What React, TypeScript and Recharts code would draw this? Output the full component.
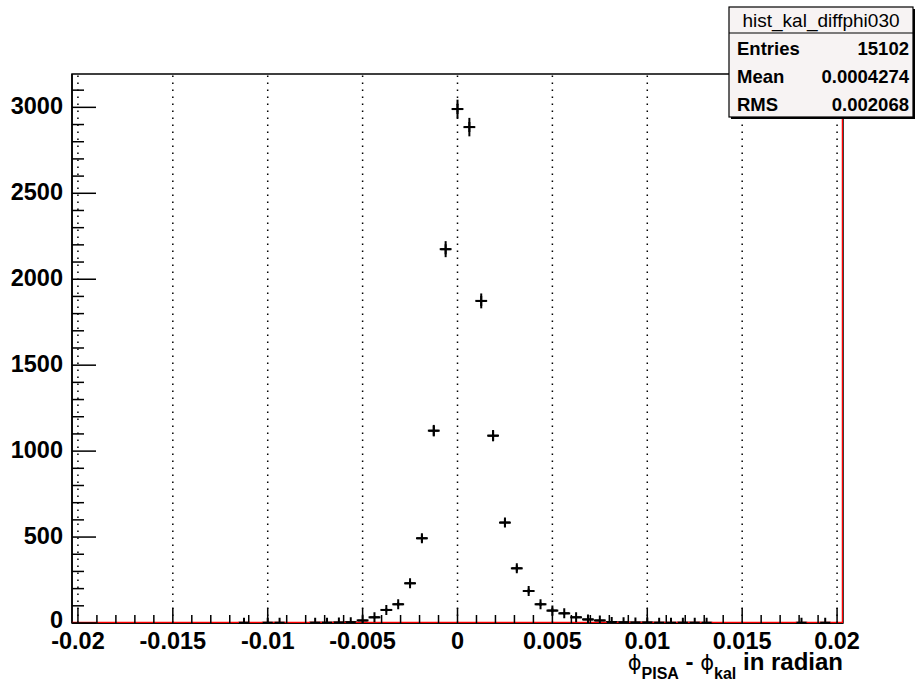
import { ScatterChart, Scatter, XAxis, YAxis, ErrorBar, ReferenceLine, ReferenceArea } from 'recharts'

// histogram range and bins (65 bins of 0.000625)
const X_MIN = -0.0203125
const X_MAX = 0.0203125
const Y_MAX = 3194
const BIN_HALF = 0.0003125

// non-empty bins: centre and count
const BIN_CENTERS = [
  -0.01125, -0.01, -0.009375, -0.0075, -0.006875, -0.00625, -0.005625, -0.005,
  -0.004375, -0.00375, -0.003125, -0.0025, -0.001875, -0.00125, -0.000625, 0,
  0.000625, 0.00125, 0.001875, 0.0025, 0.003125, 0.00375, 0.004375, 0.005,
  0.005625, 0.00625, 0.006875, 0.0075, 0.008125, 0.00875, 0.009375, 0.01,
  0.010625, 0.01125, 0.011875, 0.0125, 0.013125, 0.018125, 0.019375,
]
const BIN_COUNTS = [
  1, 1, 1, 2, 2, 3, 5, 15,
  33, 76, 109, 231, 493, 1119, 2175, 2990,
  2885, 1874, 1090, 584, 318, 186, 109, 72,
  56, 33, 21, 15, 6, 4, 3, 3,
  2, 1, 2, 2, 1, 1, 1,
]

// the red outline histogram (empty except the last edge)
const RED_X = [X_MIN, X_MAX, X_MAX]
const RED_Y = [0, 0, Y_MAX]

// axis ticks
const X_TICKS = [
  -0.02, -0.019, -0.018, -0.017, -0.016, -0.015, -0.014, -0.013, -0.012, -0.011,
  -0.01, -0.009, -0.008, -0.007, -0.006, -0.005, -0.004, -0.003, -0.002, -0.001,
  0, 0.001, 0.002, 0.003, 0.004, 0.005, 0.006, 0.007, 0.008, 0.009,
  0.01, 0.011, 0.012, 0.013, 0.014, 0.015, 0.016, 0.017, 0.018, 0.019, 0.02,
]
const X_LABELS = ['-0.02', '-0.015', '-0.01', '-0.005', '0', '0.005', '0.01', '0.015', '0.02']
const X_GRID = [-0.02, -0.015, -0.01, -0.005, 0, 0.005, 0.01, 0.015, 0.02]
const Y_TICKS = [
  0, 100, 200, 300, 400, 500, 600, 700, 800, 900, 1000, 1100, 1200, 1300, 1400, 1500,
  1600, 1700, 1800, 1900, 2000, 2100, 2200, 2300, 2400, 2500, 2600, 2700, 2800, 2900, 3000, 3100,
]

const STATS = [
  ['Entries', '15102'],
  ['Mean', '0.0004274'],
  ['RMS', '0.002068'],
]

const FONT = '"Liberation Sans", Arial, Helvetica, sans-serif'

const points = BIN_CENTERS.map((x, i) => ({
  x,
  y: BIN_COUNTS[i],
  ex: BIN_HALF,
  ey: Math.sqrt(BIN_COUNTS[i]),
}))
const redLine = RED_X.map((x, i) => ({ x, y: RED_Y[i] }))

const XTick = (props: any) => {
  const { x, y, index } = props
  const major = index % 5 === 0
  return (
    <g>
      <line x1={x} x2={x} y1={y} y2={y - (major ? 15 : 8)} stroke="#000" strokeWidth={1.5} />
      {major && (
        <text x={x} y={y + 26} textAnchor="middle" fontFamily={FONT} fontWeight="bold" fontSize={23.5} fill="#000">
          {X_LABELS[index / 5]}
        </text>
      )}
    </g>
  )
}

const YTick = (props: any) => {
  const { x, y, payload } = props
  const major = payload.value % 500 === 0
  return (
    <g>
      <line x1={x} x2={x + (major ? 24 : 12)} y1={y} y2={y} stroke="#000" strokeWidth={1.5} />
      {major && (
        <text x={x - 9} y={y + (payload.value === 0 ? 5 : 7)} textAnchor="end" fontFamily={FONT} fontWeight="bold" fontSize={23.5} fill="#000">
          {payload.value}
        </text>
      )}
    </g>
  )
}

const Plus = (props: any) => {
  const { cx, cy } = props
  if (cx == null || cy == null) return null
  return <path d={`M${cx - 5} ${cy}h10M${cx} ${cy - 5}v10`} stroke="#000" strokeWidth={2} fill="none" />
}

const AxisTitle = () => (
  <text x={843} y={670} textAnchor="end" fontFamily={FONT} fontWeight="bold" fontSize={24} fill="#000">
    <tspan fontFamily="DejaVu Sans" fontWeight="normal" fontSize={21}>ϕ</tspan>
    <tspan dy={9} fontSize={16}>PISA</tspan>
    <tspan dy={-9}> - </tspan>
    <tspan fontFamily="DejaVu Sans" fontWeight="normal" fontSize={21}>ϕ</tspan>
    <tspan dy={9} fontSize={16}>kal</tspan>
    <tspan dy={-9}> in radian</tspan>
  </text>
)

export default function App() {
  return (
    <div style={{ position: 'absolute', left: 0, top: 0, width: 921, height: 683, background: '#fff' }}>
      <ScatterChart width={921} height={683} margin={{ top: 74, right: 78, bottom: 0, left: 0 }}>
        <XAxis
          type="number"
          dataKey="x"
          domain={[X_MIN, X_MAX]}
          allowDataOverflow
          ticks={X_TICKS}
          interval={0}
          tickLine={false}
          tickSize={0}
          tickMargin={0}
          tick={<XTick />}
          height={60}
          axisLine={{ stroke: '#000', strokeWidth: 1.5 }}
          label={{ content: () => <AxisTitle /> }}
        />
        <YAxis
          type="number"
          dataKey="y"
          domain={[0, Y_MAX]}
          allowDataOverflow
          ticks={Y_TICKS}
          interval={0}
          tickLine={false}
          tickSize={0}
          tickMargin={0}
          tick={<YTick />}
          width={72}
          axisLine={{ stroke: '#000', strokeWidth: 1.5 }}
        />
        {X_GRID.map((v) => (
          <ReferenceLine key={v} x={v} stroke="#000" strokeWidth={1.5} strokeDasharray="1.5 5.5" />
        ))}
        <ReferenceArea x1={X_MIN} x2={X_MAX} y1={0} y2={Y_MAX} fill="none" stroke="#000" strokeWidth={1.5} />
        <Scatter
          data={redLine}
          line={{ stroke: '#ff0000', strokeWidth: 2.5 }}
          shape={() => null}
          isAnimationActive={false}
        />
        <Scatter data={points} shape={<Plus />} isAnimationActive={false}>
          <ErrorBar dataKey="ex" direction="x" width={0} stroke="#000" strokeWidth={2} />
          <ErrorBar dataKey="ey" direction="y" width={0} stroke="#000" strokeWidth={2} />
        </Scatter>
      </ScatterChart>
      <svg width={921} height={683} style={{ position: 'absolute', left: 0, top: 0, pointerEvents: 'none' }}>
        <rect x={731} y={9} width={184} height={110} fill="#000" />
        <rect x={729} y={7} width={184} height={110} fill="#f7f3f3" stroke="#000" strokeWidth={1.2} />
        <line x1={729} x2={913} y1={33} y2={33} stroke="#000" strokeWidth={1.2} />
        <text x={821} y={27} textAnchor="middle" fontFamily={FONT} fontSize={19} fill="#000">
          hist_kal_diffphi030
        </text>
        {STATS.map(([k, v], i) => (
          <g key={k}>
            <text x={737} y={55 + i * 28} fontFamily={FONT} fontWeight="bold" fontSize={18.5} fill="#000">
              {k}
            </text>
            <text x={909} y={55 + i * 28} textAnchor="end" fontFamily={FONT} fontWeight="bold" fontSize={18.5} fill="#000">
              {v}
            </text>
          </g>
        ))}
      </svg>
    </div>
  )
}
